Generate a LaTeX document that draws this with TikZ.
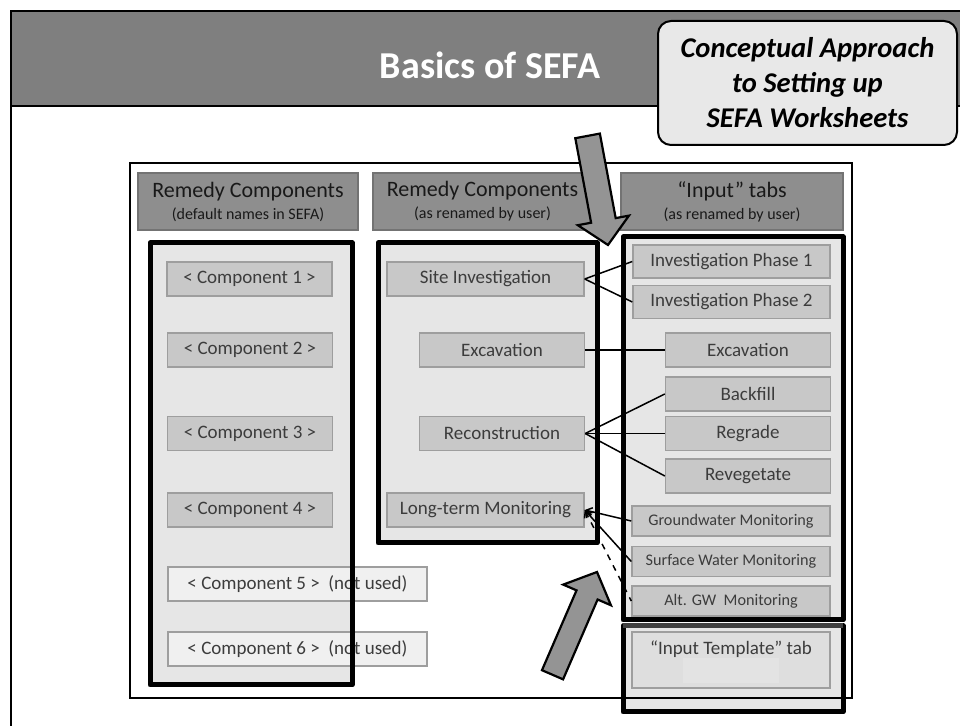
\documentclass[tikz,border=0pt]{standalone}
\usepackage{fontspec}
\setmainfont{Carlito}
\usetikzlibrary{arrows.meta}

\definecolor{bandgray}{HTML}{7F7F7F}
\definecolor{headgray}{HTML}{8E8E8E}
\definecolor{boxgray}{HTML}{C8C8C8}
\definecolor{panelgray}{HTML}{E6E6E6}
\definecolor{notegray}{HTML}{E8E8E8}
\definecolor{textgray}{HTML}{3C3C3C}

\tikzset{
  colhead/.style={draw=black!55, fill=headgray, line width=0.6pt, minimum width=110pt,
    minimum height=28.5pt, inner sep=0pt, align=center, text=black!90,
    font=\fontsize{11}{12}\selectfont},
  compbox/.style={draw=black!38, fill=boxgray, line width=0.7pt, minimum width=82.5pt,
    minimum height=17pt, inner sep=0pt, text=textgray, font=\fontsize{9.5}{11}\selectfont},
  widebox/.style={compbox, minimum width=98.5pt},
  unused/.style={compbox, fill=black!6, minimum width=129.5pt},
  montab/.style={compbox, minimum width=99pt, minimum height=15pt,
    font=\fontsize{8.1}{10}\selectfont},
  panel/.style={line width=2.5pt, line join=round},
  link/.style={line width=0.75pt},
  bigarrow/.style={fill=black!42, draw=black, line width=1.1pt, line join=miter},
}

\begin{document}
\begin{tikzpicture}[x=0.5pt,y=-0.5pt]
	\useasboundingbox (0,0) rectangle (960,726);
	\fill[white] (0,0) rectangle (960,726);
	
	%title band
	\fill[bandgray] (11,11) rectangle (960,106);
	\draw[line width=1pt] (11,726) -- (11,11) -- (960,11);
	\draw[line width=1pt] (11,106) -- (960,106);
	\node[text=white, font=\fontsize{19}{22}\selectfont\bfseries] (title) at (490,65) {Basics of SEFA};
	
	%worksheet frame
	\fill[white] (130,163) rectangle (852,698);
	\node[colhead] (h1) at (248,201.5) {Remedy Components\\[-1pt]{\fontsize{8}{10}\selectfont (default names in SEFA)}};
	\node[colhead, minimum width=109.5pt] (h2) at (482.5,201.5) {Remedy Components\\[-1pt]{\fontsize{8}{10}\selectfont (as renamed by user)}};
	\node[colhead, minimum width=111pt] (h3) at (732,201.5) {“Input” tabs\\[-1pt]{\fontsize{8}{10}\selectfont (as renamed by user)}};
	
	%panels
	\fill[panelgray] (150,243) rectangle (352,685);
	\fill[panelgray] (378,243) rectangle (597,543);
	\fill[panelgray] (623,237) rectangle (843,620);
	\fill[panelgray] (623,626) rectangle (843,712);
	\draw[line width=0.75pt] (130,163) rectangle (852,698);
	
	%default components
	\node[compbox] (c1) at (249.5,279) {< Component 1 >};
	\node[compbox] (c2) at (250,350) {< Component 2 >};
	\node[compbox] (c3) at (250,433.5) {< Component 3 >};
	\node[compbox] (c4) at (250,510) {< Component 4 >};
	\node[unused] (c5) at (297.5,584) {< Component 5 >\ \ (not used)};
	\node[unused] (c6) at (297.5,649) {< Component 6 >\ \ (not used)};
	
	%renamed components
	\node[widebox] (si) at (485.5,279) {Site Investigation};
	\node[compbox] (mex) at (502,350) {Excavation};
	\node[compbox] (rec) at (502,433.5) {Reconstruction};
	\node[widebox] (ltm) at (485.5,510) {Long-term Monitoring};
	
	%input tabs
	\node[widebox, minimum height=16.5pt] (ip1) at (731.5,261.5) {Investigation Phase 1};
	\node[widebox, minimum height=16.5pt] (ip2) at (731.5,302) {Investigation Phase 2};
	\node[compbox] (rex) at (748,350) {Excavation};
	\node[compbox] (bf) at (748,394) {Backfill};
	\node[compbox] (rg) at (748,433.5) {Regrade};
	\node[compbox] (rv) at (748,476) {Revegetate};
	\node[montab] (gw) at (731,521) {Groundwater Monitoring};
	\node[montab] (sw) at (731,561.5) {Surface Water Monitoring};
	\node[montab] (alt) at (731,601) {Alt. GW\ \ Monitoring};
	\node[compbox, fill=black!13, minimum width=99pt, minimum height=28pt,
	  text height=8pt, text depth=13pt] (tmpl) at (731,660) {“Input Template” tab};
	\fill[black!11] (683,658) rectangle (779,683);
	
	%links
	\draw[link] (si.east) -- (ip1.west);
	\draw[link] (si.east) -- (ip2.west);
	\draw[link] (mex.east) -- (rex.west);
	\draw[link] (rec.east) -- (bf.west);
	\draw[link] (rec.east) -- (rg.west);
	\draw[link] (rec.east) -- (rv.west);
	\draw[link, {Straight Barb[length=3pt,width=4pt]}-] (ltm.east) -- (gw.west);
	\draw[link, {Straight Barb[length=3pt,width=4pt]}-] (ltm.east) -- (sw.west);
	\draw[link, dashed, {Straight Barb[length=3pt,width=4pt]}-] (ltm.east) -- (alt.west);
	
	%panel borders
	\draw[panel] (150,243) rectangle (352,685);
	\draw[panel] (378,243) rectangle (597,543);
	\draw[panel] (623,237) rectangle (843,620);
	\draw[panel] (623,626) rectangle (843,712);
	\draw[line width=2.5pt, black!75] (623,626) -- (843,626);
	
	%block arrows
	\begin{scope}[shift={(608,245)},rotate=-79.4]
		\draw[bigarrow] (0,0) -- (-25,26) -- (-25,12.5) -- (-111,12.5) -- (-111,-12.5) -- (-25,-12.5) -- (-25,-26) -- cycle;
	\end{scope}
	\begin{scope}[shift={(597,572)},rotate=66.6]
		\draw[bigarrow] (0,0) -- (-25,26) -- (-25,11.5) -- (-112,11.5) -- (-112,-11.5) -- (-25,-11.5) -- (-25,-26) -- cycle;
	\end{scope}
	
	%callout
	\node[draw=black, fill=notegray, line width=1pt, rounded corners=6.5pt,
	  minimum width=149.5pt, minimum height=62pt, inner sep=0pt, align=center,
	  font=\fontsize{14.3}{17.5}\selectfont\bfseries\itshape] (note) at (807.5,83)
	  {Conceptual Approach\\to Setting up\\SEFA Worksheets};
\end{tikzpicture}
\end{document}
